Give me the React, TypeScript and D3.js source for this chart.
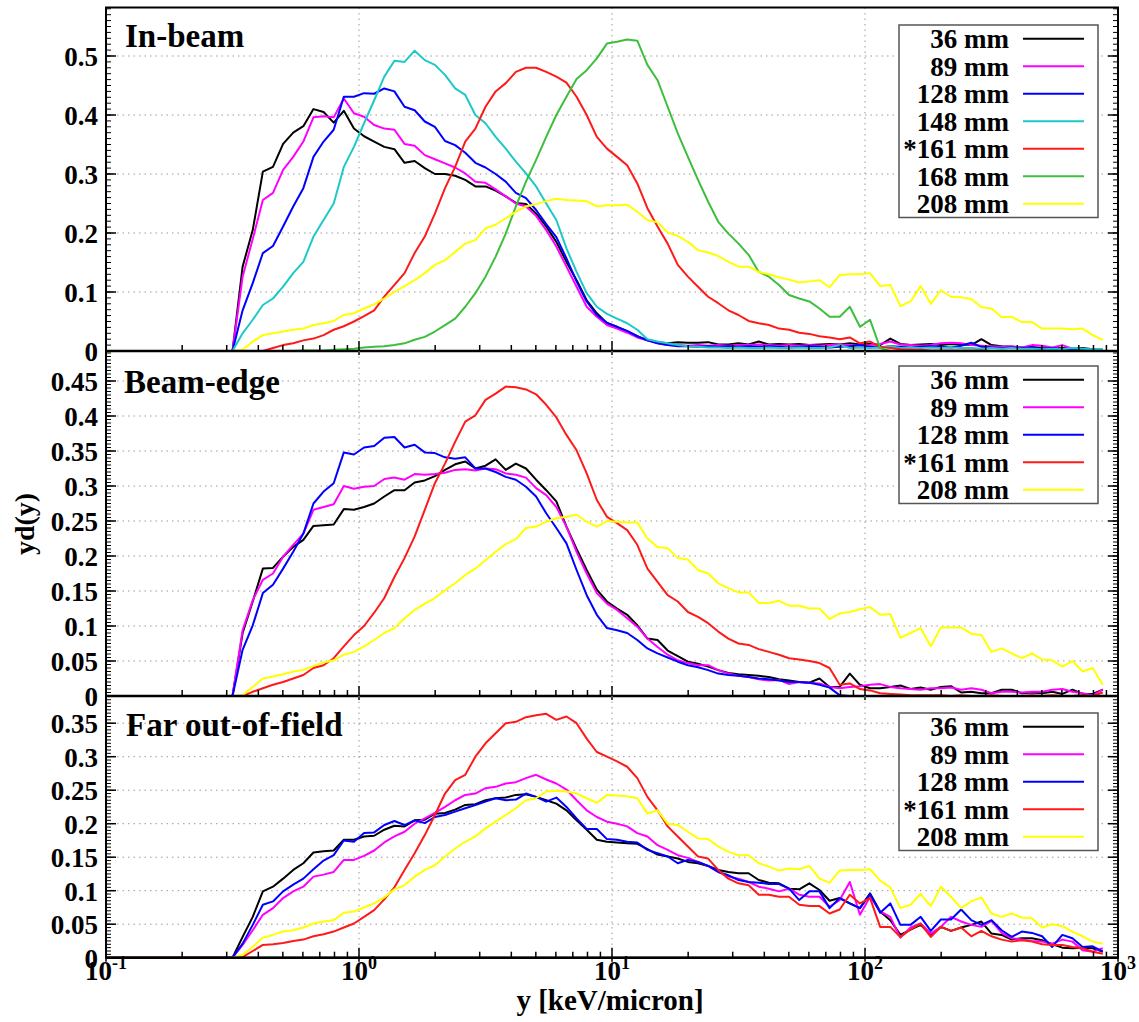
import React from "react";
import * as d3 from "d3";

// histogram bins, 25 per decade starting at 10^-0.5 keV/micron
const binLog0 = -0.5;
const binsPerDecade = 25;
const binCount = 87;
const yBins = d3.range(binCount).map((k) => Math.pow(10, binLog0 + k / binsPerDecade));

const labels7 = ["36 mm", "89 mm", "128 mm", "148 mm", "*161 mm", "168 mm", "208 mm"];
const colors7 = ["#000000", "#ff00ff", "#0000ff", "#1cc8c8", "#ff1a1a", "#3cbf3c", "#ffff00"];
const labels5 = ["36 mm", "89 mm", "128 mm", "*161 mm", "208 mm"];
const colors5 = ["#000000", "#ff00ff", "#0000ff", "#ff1a1a", "#ffff00"];

const xTickExponents = [-1, 0, 1, 2, 3];
const yTicksInBeam = ["0", "0.1", "0.2", "0.3", "0.4", "0.5"];
const yTicksBeamEdge = ["0", "0.05", "0.1", "0.15", "0.2", "0.25", "0.3", "0.35", "0.4", "0.45"];
const yTicksFarField = ["0", "0.05", "0.1", "0.15", "0.2", "0.25", "0.3", "0.35"];

// ---- In-beam ----
const inBeam36 = [
  0, 0.143, 0.205, 0.304, 0.312, 0.351, 0.370, 0.381, 0.410, 0.405,
  0.387, 0.407, 0.377, 0.364, 0.355, 0.346, 0.342, 0.319, 0.322, 0.310,
  0.300, 0.300, 0.297, 0.290, 0.279, 0.279, 0.272, 0.262, 0.251, 0.249,
  0.233, 0.211, 0.185, 0.151, 0.120, 0.086, 0.064, 0.047, 0.041, 0.033,
  0.025, 0.018, 0.015, 0.013, 0.015, 0.014, 0.014, 0.015, 0.011, 0.011,
  0.013, 0.011, 0.016, 0.011, 0.012, 0.011, 0.012, 0.010, 0.011, 0.012,
  0.011, 0.013, 0.011, 0.012, 0.010, 0.021, 0.012, 0.010, 0.011, 0.012,
  0.010, 0.012, 0.011, 0.010, 0.020, 0.010, 0.008, 0.007, 0.006, 0.007,
  0.005, 0.004, 0.005, 0.004, 0.005, 0.003, 0.002,
];
const inBeam89 = [
  0, 0.126, 0.190, 0.256, 0.268, 0.307, 0.329, 0.355, 0.396, 0.398,
  0.396, 0.428, 0.403, 0.397, 0.383, 0.377, 0.375, 0.351, 0.348, 0.332,
  0.325, 0.318, 0.311, 0.301, 0.287, 0.285, 0.274, 0.262, 0.250, 0.245,
  0.229, 0.205, 0.177, 0.143, 0.109, 0.075, 0.058, 0.044, 0.038, 0.031,
  0.023, 0.018, 0.013, 0.010, 0.010, 0.009, 0.010, 0.009, 0.010, 0.009,
  0.010, 0.010, 0.011, 0.010, 0.009, 0.010, 0.009, 0.010, 0.009, 0.010,
  0.011, 0.010, 0.009, 0.010, 0.012, 0.016, 0.011, 0.010, 0.009, 0.010,
  0.013, 0.014, 0.013, 0.010, 0.009, 0.008, 0.007, 0.008, 0.006, 0.010,
  0.009, 0.006, 0.010, 0.004, 0.003, 0.002, 0.001,
];
const inBeam128 = [
  0, 0.069, 0.115, 0.166, 0.178, 0.211, 0.245, 0.276, 0.329, 0.355,
  0.375, 0.431, 0.431, 0.437, 0.436, 0.445, 0.440, 0.414, 0.408, 0.389,
  0.380, 0.356, 0.349, 0.336, 0.319, 0.311, 0.300, 0.287, 0.268, 0.259,
  0.239, 0.215, 0.193, 0.157, 0.118, 0.084, 0.061, 0.048, 0.041, 0.034,
  0.025, 0.018, 0.013, 0.010, 0.008, 0.008, 0.007, 0.008, 0.007, 0.008,
  0.007, 0.008, 0.007, 0.008, 0.007, 0.006, 0.007, 0.008, 0.007, 0.006,
  0.007, 0.008, 0.010, 0.007, 0.006, 0.008, 0.007, 0.006, 0.007, 0.008,
  0.007, 0.006, 0.009, 0.014, 0.007, 0.006, 0.005, 0.006, 0.005, 0.006,
  0.004, 0.005, 0.003, 0.004, 0.002, 0.002, 0.001,
];
const inBeam148 = [
  0, 0.030, 0.053, 0.078, 0.089, 0.109, 0.132, 0.151, 0.194, 0.222,
  0.250, 0.312, 0.346, 0.386, 0.425, 0.465, 0.492, 0.490, 0.509, 0.493,
  0.485, 0.468, 0.445, 0.434, 0.400, 0.386, 0.363, 0.343, 0.321, 0.301,
  0.279, 0.250, 0.222, 0.174, 0.134, 0.098, 0.075, 0.063, 0.055, 0.047,
  0.036, 0.020, 0.016, 0.013, 0.010, 0.008, 0.007, 0.006, 0.006, 0.005,
  0.006, 0.005, 0.005, 0.006, 0.005, 0.005, 0.006, 0.005, 0.005, 0.006,
  0.010, 0.005, 0.006, 0.005, 0.006, 0.008, 0.005, 0.006, 0.005, 0.006,
  0.005, 0.006, 0.005, 0.005, 0.004, 0.005, 0.004, 0.005, 0.004, 0.004,
  0.003, 0.004, 0.003, 0.005, 0.004, 0.003, 0.003,
];
const inBeam161 = [
  0, 0, 0, 0, 0.005, 0.010, 0.013, 0.018, 0.021, 0.027,
  0.036, 0.042, 0.050, 0.059, 0.069, 0.092, 0.112, 0.132, 0.166, 0.194,
  0.233, 0.276, 0.312, 0.355, 0.377, 0.414, 0.440, 0.454, 0.473, 0.480,
  0.480, 0.473, 0.465, 0.455, 0.431, 0.400, 0.363, 0.343, 0.329, 0.315,
  0.284, 0.242, 0.211, 0.182, 0.146, 0.126, 0.109, 0.092, 0.081, 0.069,
  0.061, 0.051, 0.047, 0.044, 0.038, 0.036, 0.031, 0.029, 0.025, 0.023,
  0.020, 0.023, 0.013, 0.016, 0.007, 0.005, 0.003, 0.002, 0.002, 0.001,
  0.001, 0.001, 0.001, 0.001, 0.001, 0, 0, 0, 0, 0,
  0, 0, 0, 0, 0, 0, 0,
];
const inBeam168 = [
  0, 0, 0, 0, 0, 0, 0, 0.001, 0.001, 0.001,
  0.002, 0.003, 0.004, 0.006, 0.007, 0.008, 0.010, 0.013, 0.019, 0.024,
  0.033, 0.044, 0.055, 0.075, 0.098, 0.126, 0.160, 0.199, 0.245, 0.287,
  0.324, 0.363, 0.400, 0.431, 0.461, 0.476, 0.496, 0.521, 0.524, 0.528,
  0.526, 0.485, 0.459, 0.414, 0.369, 0.329, 0.290, 0.253, 0.219, 0.199,
  0.182, 0.163, 0.134, 0.126, 0.112, 0.095, 0.089, 0.084, 0.072, 0.058,
  0.058, 0.075, 0.041, 0.053, 0.005, 0, 0, 0, 0, 0,
  0, 0, 0, 0, 0, 0, 0, 0, 0, 0,
  0, 0, 0, 0, 0, 0, 0,
];
const inBeam208 = [
  0, 0.002, 0.016, 0.027, 0.030, 0.033, 0.036, 0.038, 0.044, 0.047,
  0.051, 0.061, 0.064, 0.072, 0.079, 0.089, 0.100, 0.110, 0.120, 0.132,
  0.146, 0.154, 0.168, 0.182, 0.188, 0.208, 0.214, 0.225, 0.236, 0.245,
  0.249, 0.254, 0.258, 0.256, 0.255, 0.254, 0.245, 0.247, 0.247, 0.248,
  0.236, 0.222, 0.218, 0.201, 0.195, 0.185, 0.171, 0.167, 0.161, 0.151,
  0.143, 0.143, 0.134, 0.130, 0.125, 0.121, 0.116, 0.118, 0.120, 0.108,
  0.129, 0.130, 0.130, 0.132, 0.110, 0.112, 0.076, 0.084, 0.110, 0.080,
  0.103, 0.092, 0.091, 0.088, 0.074, 0.072, 0.057, 0.058, 0.049, 0.049,
  0.038, 0.038, 0.038, 0.037, 0.038, 0.027, 0.019,
];

// ---- Beam-edge ----
const edge36 = [
  0, 0.090, 0.135, 0.182, 0.183, 0.199, 0.213, 0.223, 0.243, 0.244,
  0.245, 0.267, 0.266, 0.270, 0.275, 0.285, 0.294, 0.294, 0.305, 0.308,
  0.314, 0.323, 0.331, 0.335, 0.325, 0.329, 0.338, 0.323, 0.332, 0.325,
  0.309, 0.294, 0.278, 0.242, 0.210, 0.180, 0.152, 0.135, 0.125, 0.116,
  0.101, 0.082, 0.080, 0.065, 0.057, 0.049, 0.046, 0.042, 0.037, 0.033,
  0.031, 0.030, 0.029, 0.027, 0.024, 0.022, 0.020, 0.019, 0.025, 0.013,
  0.013, 0.032, 0.016, 0.011, 0.011, 0.013, 0.015, 0.010, 0.012, 0.009,
  0.013, 0.014, 0.005, 0.006, 0.004, 0.004, 0.009, 0.009, 0.004, 0.005,
  0.004, 0.006, 0.003, 0.009, 0.003, 0.003, 0.009,
];
const edge89 = [
  0, 0.094, 0.137, 0.166, 0.175, 0.199, 0.216, 0.232, 0.266, 0.270,
  0.274, 0.300, 0.296, 0.299, 0.300, 0.310, 0.312, 0.309, 0.317, 0.316,
  0.317, 0.319, 0.323, 0.324, 0.322, 0.325, 0.324, 0.318, 0.316, 0.312,
  0.297, 0.287, 0.270, 0.242, 0.206, 0.175, 0.147, 0.132, 0.123, 0.111,
  0.099, 0.082, 0.070, 0.059, 0.051, 0.047, 0.044, 0.044, 0.037, 0.032,
  0.029, 0.027, 0.024, 0.022, 0.023, 0.017, 0.020, 0.019, 0.018, 0.013,
  0.011, 0.013, 0.014, 0.016, 0.017, 0.013, 0.011, 0.010, 0.009, 0.011,
  0.011, 0.012, 0.009, 0.011, 0.009, 0.004, 0.006, 0.006, 0.005, 0.006,
  0.006, 0.009, 0.010, 0.006, 0.004, 0.001, 0.009,
];
const edge128 = [
  0, 0.066, 0.101, 0.147, 0.159, 0.182, 0.206, 0.232, 0.275, 0.292,
  0.304, 0.348, 0.345, 0.355, 0.357, 0.369, 0.370, 0.355, 0.359, 0.348,
  0.347, 0.341, 0.339, 0.341, 0.325, 0.325, 0.320, 0.313, 0.309, 0.299,
  0.285, 0.261, 0.240, 0.218, 0.180, 0.144, 0.116, 0.097, 0.094, 0.090,
  0.080, 0.068, 0.061, 0.055, 0.049, 0.044, 0.041, 0.037, 0.032, 0.030,
  0.029, 0.027, 0.025, 0.024, 0.022, 0.020, 0.020, 0.019, 0.016, 0.012,
  0.001, 0, 0, 0, 0, 0, 0, 0, 0, 0,
  0, 0, 0, 0, 0, 0, 0, 0, 0, 0,
  0, 0, 0, 0, 0, 0, 0,
];
const edge161 = [
  0, 0, 0.006, 0.011, 0.016, 0.020, 0.025, 0.030, 0.040, 0.044,
  0.054, 0.071, 0.087, 0.100, 0.119, 0.140, 0.170, 0.197, 0.228, 0.266,
  0.304, 0.332, 0.363, 0.392, 0.401, 0.423, 0.432, 0.442, 0.441, 0.438,
  0.431, 0.416, 0.398, 0.373, 0.351, 0.318, 0.280, 0.256, 0.247, 0.237,
  0.216, 0.182, 0.163, 0.144, 0.135, 0.120, 0.113, 0.104, 0.092, 0.082,
  0.075, 0.073, 0.067, 0.063, 0.059, 0.054, 0.052, 0.050, 0.047, 0.040,
  0.016, 0.018, 0.010, 0.008, 0.004, 0.003, 0.002, 0.001, 0.001, 0.001,
  0.001, 0, 0.001, 0, 0, 0.001, 0, 0, 0, 0.001,
  0, 0.001, 0, 0, 0.001, 0, 0.005,
];
const edge208 = [
  0, 0.001, 0.013, 0.025, 0.028, 0.031, 0.035, 0.037, 0.043, 0.048,
  0.051, 0.059, 0.063, 0.071, 0.080, 0.090, 0.097, 0.111, 0.123, 0.132,
  0.140, 0.151, 0.161, 0.173, 0.182, 0.194, 0.206, 0.217, 0.224, 0.240,
  0.242, 0.249, 0.254, 0.256, 0.259, 0.249, 0.242, 0.250, 0.249, 0.248,
  0.248, 0.225, 0.213, 0.211, 0.197, 0.195, 0.180, 0.175, 0.161, 0.154,
  0.148, 0.148, 0.133, 0.133, 0.136, 0.129, 0.129, 0.125, 0.125, 0.110,
  0.118, 0.120, 0.124, 0.127, 0.116, 0.117, 0.083, 0.090, 0.097, 0.071,
  0.098, 0.098, 0.098, 0.089, 0.087, 0.063, 0.068, 0.061, 0.054, 0.061,
  0.052, 0.051, 0.042, 0.050, 0.035, 0.040, 0.016,
];

// ---- Far out-of-field ----
const far36 = [
  0, 0.031, 0.061, 0.099, 0.106, 0.118, 0.131, 0.141, 0.157, 0.159,
  0.160, 0.176, 0.176, 0.181, 0.182, 0.191, 0.197, 0.196, 0.205, 0.206,
  0.215, 0.216, 0.221, 0.228, 0.229, 0.235, 0.238, 0.239, 0.243, 0.244,
  0.240, 0.235, 0.230, 0.220, 0.205, 0.191, 0.176, 0.173, 0.172, 0.171,
  0.170, 0.162, 0.154, 0.151, 0.148, 0.143, 0.141, 0.137, 0.131, 0.128,
  0.126, 0.126, 0.116, 0.112, 0.111, 0.103, 0.102, 0.111, 0.101, 0.085,
  0.089, 0.081, 0.074, 0.096, 0.069, 0.056, 0.034, 0.042, 0.049, 0.034,
  0.046, 0.040, 0.045, 0.049, 0.054, 0.036, 0.034, 0.027, 0.029, 0.029,
  0.026, 0.020, 0.015, 0.014, 0.015, 0.014, 0.009,
];
const far89 = [
  0, 0.019, 0.041, 0.064, 0.074, 0.089, 0.099, 0.106, 0.121, 0.124,
  0.128, 0.146, 0.146, 0.152, 0.160, 0.172, 0.181, 0.188, 0.200, 0.208,
  0.216, 0.225, 0.235, 0.243, 0.245, 0.253, 0.255, 0.260, 0.262, 0.268,
  0.273, 0.266, 0.260, 0.251, 0.235, 0.220, 0.210, 0.203, 0.200, 0.196,
  0.186, 0.181, 0.168, 0.161, 0.153, 0.149, 0.143, 0.137, 0.128, 0.121,
  0.118, 0.113, 0.106, 0.103, 0.099, 0.103, 0.094, 0.091, 0.091, 0.076,
  0.086, 0.113, 0.064, 0.091, 0.069, 0.061, 0.030, 0.045, 0.051, 0.036,
  0.046, 0.061, 0.054, 0.049, 0.046, 0.055, 0.037, 0.029, 0.027, 0.025,
  0.024, 0.021, 0.027, 0.024, 0.011, 0.009, 0.014,
];
const far128 = [
  0, 0.021, 0.049, 0.079, 0.084, 0.099, 0.109, 0.118, 0.132, 0.145,
  0.153, 0.175, 0.173, 0.186, 0.187, 0.198, 0.204, 0.198, 0.205, 0.201,
  0.210, 0.213, 0.218, 0.223, 0.228, 0.233, 0.238, 0.235, 0.236, 0.245,
  0.240, 0.233, 0.239, 0.225, 0.208, 0.192, 0.192, 0.177, 0.176, 0.173,
  0.172, 0.161, 0.156, 0.151, 0.141, 0.146, 0.143, 0.137, 0.128, 0.123,
  0.116, 0.113, 0.112, 0.110, 0.110, 0.103, 0.086, 0.099, 0.099, 0.074,
  0.089, 0.081, 0.074, 0.095, 0.067, 0.081, 0.049, 0.049, 0.061, 0.040,
  0.057, 0.057, 0.072, 0.056, 0.049, 0.056, 0.041, 0.031, 0.039, 0.037,
  0.032, 0.016, 0.034, 0.029, 0.016, 0.017, 0.009,
];
const far161 = [
  0, 0.001, 0.010, 0.019, 0.020, 0.022, 0.025, 0.027, 0.032, 0.035,
  0.039, 0.045, 0.051, 0.061, 0.071, 0.087, 0.105, 0.131, 0.156, 0.183,
  0.213, 0.245, 0.265, 0.273, 0.300, 0.320, 0.335, 0.350, 0.352, 0.359,
  0.362, 0.364, 0.355, 0.360, 0.350, 0.327, 0.307, 0.300, 0.293, 0.285,
  0.268, 0.240, 0.220, 0.196, 0.181, 0.166, 0.151, 0.148, 0.131, 0.118,
  0.111, 0.108, 0.094, 0.094, 0.091, 0.091, 0.079, 0.077, 0.077, 0.066,
  0.072, 0.094, 0.081, 0.089, 0.046, 0.046, 0.031, 0.042, 0.051, 0.031,
  0.046, 0.040, 0.045, 0.032, 0.040, 0.032, 0.027, 0.024, 0.026, 0.024,
  0.020, 0.019, 0.019, 0.016, 0.014, 0.009, 0.006,
];
const far208 = [
  0, 0.004, 0.016, 0.030, 0.034, 0.039, 0.041, 0.045, 0.051, 0.054,
  0.056, 0.067, 0.069, 0.075, 0.081, 0.090, 0.102, 0.108, 0.121, 0.131,
  0.138, 0.151, 0.163, 0.173, 0.181, 0.193, 0.203, 0.213, 0.223, 0.235,
  0.238, 0.248, 0.249, 0.248, 0.245, 0.238, 0.231, 0.243, 0.242, 0.241,
  0.238, 0.215, 0.220, 0.200, 0.198, 0.188, 0.178, 0.177, 0.166, 0.158,
  0.153, 0.153, 0.141, 0.136, 0.130, 0.133, 0.132, 0.137, 0.118, 0.112,
  0.130, 0.131, 0.131, 0.132, 0.115, 0.105, 0.074, 0.079, 0.095, 0.077,
  0.106, 0.091, 0.074, 0.084, 0.090, 0.066, 0.061, 0.066, 0.060, 0.059,
  0.045, 0.050, 0.047, 0.039, 0.032, 0.024, 0.021,
];

const FONT = "'Liberation Serif', 'Times New Roman', serif";
const left = 106;
const right = 1118;

const x = d3.scaleLog().domain([0.1, 1000]).range([left, right]);

const panels = [
  {
    id: "inbeam", title: "In-beam", titleX: 125, titleY: 47,
    top: 7.5, bottom: 351, pxPerUnit: 590,
    ticks: yTicksInBeam, minorStep: 0.01, legendTop: 25,
    series: [inBeam36, inBeam89, inBeam128, inBeam148, inBeam161, inBeam168, inBeam208],
    labels: labels7, colors: colors7,
  },
  {
    id: "edge", title: "Beam-edge", titleX: 124, titleY: 393,
    top: 351, bottom: 696, pxPerUnit: 700,
    ticks: yTicksBeamEdge, minorStep: 0.005, legendTop: 366,
    series: [edge36, edge89, edge128, edge161, edge208],
    labels: labels5, colors: colors5,
  },
  {
    id: "far", title: "Far out-of-field", titleX: 126, titleY: 736,
    top: 696, bottom: 957.7, pxPerUnit: 670,
    ticks: yTicksFarField, minorStep: 0.005, legendTop: 713,
    series: [far36, far89, far128, far161, far208],
    labels: labels5, colors: colors5,
  },
];

const xMinor: number[] = [];
[-1, 0, 1, 2].forEach((e) => {
  for (let m = 2; m <= 9; m++) xMinor.push(m * Math.pow(10, e));
});

function Panel({ p }: { p: any }) {
  const yMax = (p.bottom - p.top) / p.pxPerUnit;
  const y = d3.scaleLinear().domain([0, yMax]).range([p.bottom, p.top]);
  const line = d3
    .line<[number, number]>()
    .x((d) => x(d[0]))
    .y((d) => y(d[1]));
  const minor = d3.range(0, yMax, p.minorStep);
  const rowH = 27.5;
  const boxH = p.labels.length * rowH;

  return (
    <g>
      <defs>
        <clipPath id={"clip-" + p.id}>
          <rect x={left} y={p.top} width={right - left} height={p.bottom - p.top} />
        </clipPath>
      </defs>
      {/* grid */}
      {p.ticks.slice(1).map((t: string) => (
        <line key={"gy" + t} x1={left} x2={right} y1={y(+t)} y2={y(+t)}
          stroke="#9a9a9a" strokeWidth={1} strokeDasharray="1.5,4" />
      ))}
      {[1, 10, 100].map((v) => (
        <line key={"gx" + v} x1={x(v)} x2={x(v)} y1={p.top} y2={p.bottom}
          stroke="#9a9a9a" strokeWidth={1} strokeDasharray="1.5,4" />
      ))}
      {/* curves */}
      <g clipPath={`url(#clip-${p.id})`}>
        {p.series.map((vals: number[], i: number) => {
          const pts: [number, number][] = [[0.1, 0], ...vals.map((v, k) => [yBins[k], v] as [number, number])];
          return (
            <path key={i} d={line(pts) || ""} fill="none" stroke={p.colors[i]}
              strokeWidth={2} strokeLinejoin="round" />
          );
        })}
      </g>
      {/* y ticks */}
      {minor.map((v: number, i: number) => (
        <g key={"my" + i}>
          <line x1={left} x2={left + 5} y1={y(v)} y2={y(v)} stroke="#000" strokeWidth={1} />
          <line x1={right} x2={right - 5} y1={y(v)} y2={y(v)} stroke="#000" strokeWidth={1} />
        </g>
      ))}
      {p.ticks.map((t: string) => (
        <g key={"ty" + t}>
          <line x1={left} x2={left + 10} y1={y(+t)} y2={y(+t)} stroke="#000" strokeWidth={1.5} />
          <line x1={right} x2={right - 10} y1={y(+t)} y2={y(+t)} stroke="#000" strokeWidth={1.5} />
          <text x={98} y={y(+t) + 10} textAnchor="end" fontFamily={FONT} fontWeight="bold"
            fontSize={27}>{t}</text>
        </g>
      ))}
      {/* x ticks at bottom of panel */}
      {xMinor.map((v) => (
        <line key={"mx" + v} x1={x(v)} x2={x(v)} y1={p.bottom} y2={p.bottom - 6}
          stroke="#000" strokeWidth={1.5} />
      ))}
      {xTickExponents.map((e) => (
        <line key={"tx" + e} x1={x(Math.pow(10, e))} x2={x(Math.pow(10, e))}
          y1={p.bottom - 10} y2={p.bottom + 4} stroke="#000" strokeWidth={1.5} />
      ))}
      <line x1={left} x2={right} y1={p.bottom} y2={p.bottom} stroke="#000" strokeWidth={2.5} />
      {/* title */}
      <text x={p.titleX} y={p.titleY} fontFamily={FONT} fontWeight="bold" fontSize={33}>{p.title}</text>
      {/* legend */}
      <rect x={899} y={p.legendTop} width={199} height={boxH} fill="#fff" stroke="#555" strokeWidth={1.5} />
      {p.labels.map((lab: string, i: number) => {
        const cy = p.legendTop + 13.75 + i * rowH;
        return (
          <g key={lab}>
            <text x={1009} y={cy + 9.5} textAnchor="end" fontFamily={FONT} fontWeight="bold"
              fontSize={27}>{lab}</text>
            <line x1={1023} x2={1084} y1={cy} y2={cy} stroke={p.colors[i]} strokeWidth={2} />
          </g>
        );
      })}
    </g>
  );
}

export default function App() {
  return (
    <svg width={1139} height={1022} style={{ display: "block", position: "absolute", left: 0, top: 0 }}
      xmlns="http://www.w3.org/2000/svg">
      <rect width={1139} height={1022} fill="#fff" />
      {panels.map((p) => (
        <Panel key={p.id} p={p} />
      ))}
      <rect x={left} y={7.5} width={right - left} height={957.7 - 7.5} fill="none" stroke="#000" strokeWidth={2} />
      {xTickExponents.map((e) => (
        <text key={"lx" + e} x={x(Math.pow(10, e))} y={980} textAnchor="middle" fontFamily={FONT}
          fontWeight="bold" fontSize={27}>
          10<tspan dy={-11} fontSize={18}>{e}</tspan>
        </text>
      ))}
      <text x={610} y={1010} textAnchor="middle" fontFamily={FONT} fontWeight="bold" fontSize={29}>
        y [keV/micron]
      </text>
      <text transform="translate(34,524) rotate(-90)" textAnchor="middle" fontFamily={FONT}
        fontWeight="bold" fontSize={28}>
        yd(y)
      </text>
    </svg>
  );
}
